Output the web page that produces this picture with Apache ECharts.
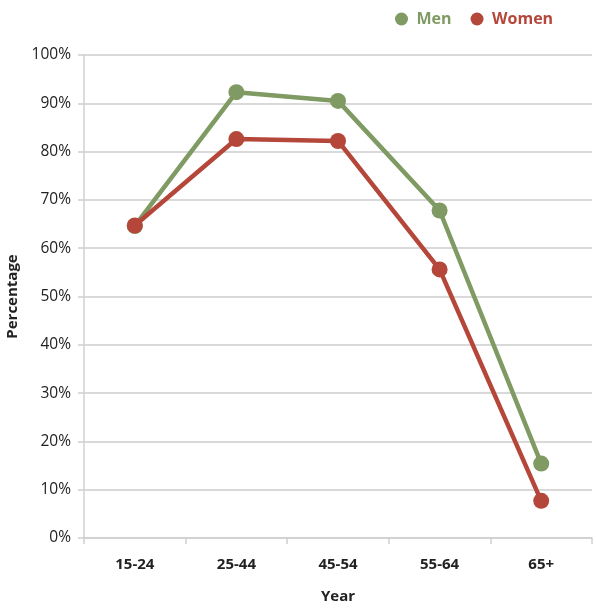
<!DOCTYPE html>
<html><head><meta charset="utf-8">
<script src="https://cdn.jsdelivr.net/npm/echarts@6/dist/echarts.min.js"></script>
<style>html,body{margin:0;padding:0;background:#fff}#c{width:597px;height:613px}</style>
</head><body><div id="c"></div>
<script>
const categories = ['15-24','25-44','45-54','55-64','65+'];
const menValues = [64.6, 92.3, 90.5, 67.8, 15.4];
const womenValues = [64.7, 82.6, 82.2, 55.6, 7.7];
const yTicks = [0,10,20,30,40,50,60,70,80,90,100];

const FONT = '"Open Sans", "DejaVu Sans", sans-serif';
const GREEN = '#7f9a62';
const RED = '#b5473a';
const chart = echarts.init(document.getElementById('c'), null, {renderer:'canvas'});
chart.setOption({
  animation:false,
  textStyle:{fontFamily:FONT},
  legend:{
    top:6, left:390, itemGap:19, icon:'circle', itemWidth:20, itemHeight:13,
    textStyle:{fontFamily:FONT, fontSize:16, fontWeight:'bold'},
    data:[{name:'Men', textStyle:{color:GREEN}},{name:'Women', textStyle:{color:RED}}]
  },
  grid:{left:84, right:5, top:55, bottom:75, containLabel:false, outerBoundsMode:'none'},
  xAxis:{
    type:'category', data:categories, boundaryGap:true,
    name:'Year', nameLocation:'middle', nameGap:51,
    nameTextStyle:{fontFamily:FONT, fontSize:15, fontWeight:'bold', color:'#222'},
    axisLine:{lineStyle:{color:'#d0d0d0', width:1.5}},
    axisTick:{show:true, length:6, lineStyle:{color:'#d0d0d0', width:1.5}},
    axisLabel:{fontFamily:FONT, fontSize:15, fontWeight:'bold', color:'#222', margin:19}
  },
  yAxis:{
    type:'value', min:0, max:100, interval:10,
    name:'Percentage', nameLocation:'middle', nameGap:63, nameRotate:90,
    nameTextStyle:{fontFamily:FONT, fontSize:15, fontWeight:'bold', color:'#222'},
    axisLine:{show:true, lineStyle:{color:'#d0d0d0', width:1.5}},
    axisTick:{show:true, length:6, lineStyle:{color:'#d0d0d0', width:1.5}},
    axisLabel:{fontFamily:FONT, fontSize:15.5, color:'#222', margin:13,
      formatter:function(v){return yTicks.indexOf(v)>=0 ? v+'%' : '';}},
    splitLine:{lineStyle:{color:'#cccccc', width:1.5}}
  },
  series:[
    {name:'Men', type:'line', data:menValues, symbol:'circle', symbolSize:16,
     lineStyle:{color:GREEN, width:4.5}, itemStyle:{color:GREEN}, z:2},
    {name:'Women', type:'line', data:womenValues, symbol:'circle', symbolSize:16,
     lineStyle:{color:RED, width:4.5}, itemStyle:{color:RED}, z:3}
  ]
});
</script></body></html>
